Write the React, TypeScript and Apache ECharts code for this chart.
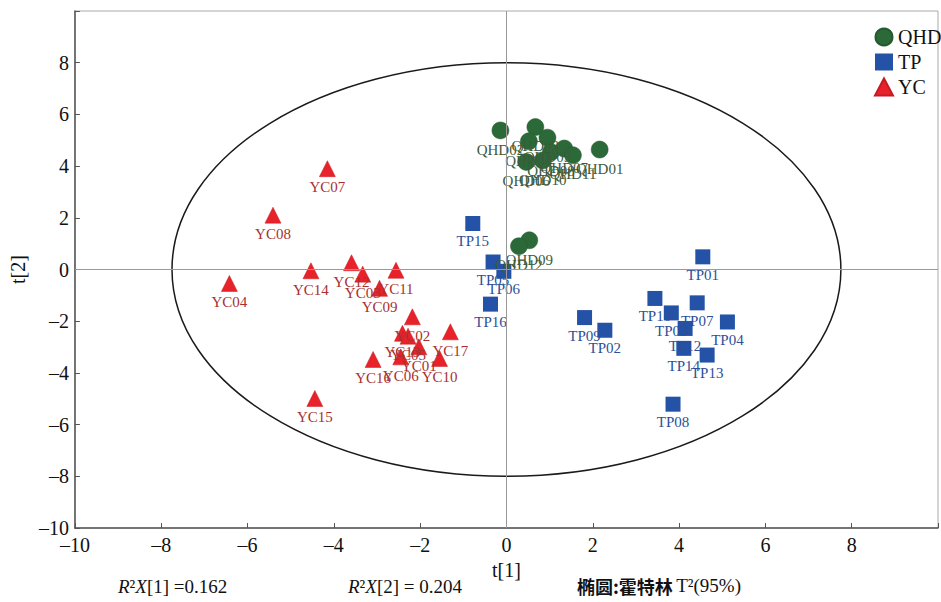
import React, { useEffect, useRef } from "react";
import * as echarts from "echarts";

const X_TICKS = [-10, -8, -6, -4, -2, 0, 2, 4, 6, 8];
const Y_TICKS = [-10, -8, -6, -4, -2, 0, 2, 4, 6, 8];

const QHD_NAMES = ["QHD02", "QHD03", "QHD04", "QHD05", "QHD08", "QHD07", "QHD11", "QHD01", "QHD06", "QHD10", "QHD09", "QHD12"];
const QHD_X = [-0.14, 0.67, 0.52, 0.95, 1.03, 1.34, 1.54, 2.16, 0.46, 0.84, 0.53, 0.29];
const QHD_Y = [5.38, 5.51, 4.96, 5.1, 4.54, 4.68, 4.42, 4.64, 4.16, 4.22, 1.13, 0.9];

const TP_NAMES = ["TP15", "TP05", "TP06", "TP16", "TP09", "TP02", "TP01", "TP10", "TP03", "TP07", "TP04", "TP12", "TP14", "TP13", "TP08"];
const TP_X = [-0.78, -0.31, -0.06, -0.37, 1.81, 2.28, 4.55, 3.44, 3.82, 4.42, 5.12, 4.14, 4.11, 4.65, 3.86];
const TP_Y = [1.78, 0.29, -0.07, -1.34, -1.86, -2.35, 0.49, -1.12, -1.68, -1.29, -2.03, -2.28, -3.05, -3.31, -5.21];

const YC_NAMES = ["YC07", "YC08", "YC04", "YC14", "YC12", "YC03", "YC09", "YC11", "YC02", "YC13", "YC05", "YC01", "YC17", "YC06", "YC10", "YC16", "YC15"];
const YC_X = [-4.15, -5.41, -6.42, -4.53, -3.59, -3.33, -2.94, -2.56, -2.18, -2.41, -2.28, -2.03, -1.3, -2.45, -1.55, -3.09, -4.44];
const YC_Y = [3.9, 2.1, -0.54, -0.05, 0.26, -0.18, -0.73, -0.03, -1.83, -2.47, -2.58, -2.99, -2.41, -3.38, -3.44, -3.48, -4.99];

const ELLIPSE_CENTER = [0, 0];
const ELLIPSE_RADII = [7.75, 8.0];

const SERIF = "'Liberation Serif', 'Times New Roman', serif";

function pts(names: string[], xs: number[], ys: number[]) {
  return names.map((n, i) => ({ name: n, value: [xs[i], ys[i]] }));
}

function fmt(v: number) {
  return String(v).replace("-", "\u2013");
}

export default function App() {
  const ref = useRef<HTMLDivElement>(null);
  useEffect(() => {
    document.body.style.margin = "0";
    const chart = echarts.init(ref.current!, null, { renderer: "svg" });
    const labelBase = { show: true, position: "bottom", distance: 3, formatter: "{b}", fontFamily: SERIF, fontSize: 15 };
    chart.setOption({
      animation: false,
      backgroundColor: "#ffffff",
      grid: { left: 71, right: -2, top: 11, bottom: 74, show: true, borderColor: "#aaaaaa", borderWidth: 1, backgroundColor: "transparent" },
      legend: {
        orient: "vertical",
        left: 869,
        top: 22,
        itemWidth: 18,
        itemHeight: 17,
        itemGap: 5,
        textStyle: { fontFamily: SERIF, fontSize: 20, color: "#111" },
        data: [
          { name: "QHD", icon: "circle" },
          { name: "TP", icon: "rect" },
          { name: "YC", icon: "triangle" },
        ],
      },
      xAxis: {
        type: "value",
        min: -10,
        max: 10,
        interval: 2,
        name: "t[1]",
        nameLocation: "middle",
        nameGap: 32,
        nameTextStyle: { fontFamily: SERIF, fontSize: 20, color: "#111" },
        axisLine: { show: true, onZero: false, lineStyle: { color: "#555", width: 1.5 } },
        axisTick: { show: true, inside: true, length: 5, lineStyle: { color: "#555" } },
        axisLabel: {
          fontFamily: SERIF,
          fontSize: 20,
          color: "#111",
          margin: 7,
          formatter: (v: number) => (X_TICKS.includes(v) ? fmt(v) : ""),
        },
        splitLine: { show: false },
      },
      yAxis: {
        type: "value",
        min: -10,
        max: 10,
        interval: 2,
        name: "t[2]",
        nameLocation: "middle",
        nameGap: 43,
        nameTextStyle: { fontFamily: SERIF, fontSize: 20, color: "#111" },
        axisLine: { show: true, onZero: false, lineStyle: { color: "#555", width: 1.5 } },
        axisTick: { show: true, inside: true, length: 5, lineStyle: { color: "#555" } },
        axisLabel: {
          fontFamily: SERIF,
          fontSize: 20,
          color: "#111",
          margin: 6,
          formatter: (v: number) => (Y_TICKS.includes(v) ? fmt(v) : ""),
        },
        splitLine: { show: false },
      },
      series: [
        {
          type: "custom",
          name: "ellipse",
          silent: true,
          clip: false,
          z: 1,
          data: [[ELLIPSE_CENTER[0], ELLIPSE_CENTER[1]]],
          renderItem: (params: any, api: any) => {
            const c = api.coord([ELLIPSE_CENTER[0], ELLIPSE_CENTER[1]]);
            const e = api.coord([ELLIPSE_CENTER[0] + ELLIPSE_RADII[0], ELLIPSE_CENTER[1] + ELLIPSE_RADII[1]]);
            return {
              type: "ellipse",
              shape: { cx: c[0], cy: c[1], rx: Math.abs(e[0] - c[0]), ry: Math.abs(e[1] - c[1]) },
              style: { fill: "none", stroke: "#1a1a1a", lineWidth: 1.5 },
            };
          },
          markLine: {
            silent: true,
            symbol: "none",
            label: { show: false },
            lineStyle: { color: "#999999", width: 1, type: "solid" },
            data: [{ xAxis: 0 }, { yAxis: 0 }],
          },
        },
        {
          type: "scatter",
          name: "QHD",
          symbol: "circle",
          symbolSize: 17,
          z: 3,
          itemStyle: { color: "#2b6a38", borderColor: "#235a2e", borderWidth: 0.5, opacity: 1 },
          label: { ...labelBase, color: "#3e5a3a" },
          data: pts(QHD_NAMES, QHD_X, QHD_Y),
        },
        {
          type: "scatter",
          name: "TP",
          symbol: "rect",
          symbolSize: 15,
          z: 3,
          itemStyle: { color: "#2452a6", opacity: 1 },
          label: { ...labelBase, color: "#2d4f98" },
          data: pts(TP_NAMES, TP_X, TP_Y),
        },
        {
          type: "scatter",
          name: "YC",
          symbol: "triangle",
          symbolSize: 16,
          z: 3,
          itemStyle: { color: "#e8222a", borderColor: "#c81a20", borderWidth: 0.5, opacity: 1 },
          label: { ...labelBase, color: "#a83030" },
          data: pts(YC_NAMES, YC_X, YC_Y),
        },
      ],
      graphic: [
        {
          type: "text",
          left: 118,
          top: 577,
          style: {
            text: "{i|R}{n|\u00b2}{i|X}{n|[1] =0.162}",
            rich: {
              i: { fontFamily: SERIF, fontSize: 19, fontStyle: "italic", fill: "#111" },
              n: { fontFamily: SERIF, fontSize: 19, fill: "#111" },
            },
          },
        },
        {
          type: "text",
          left: 348,
          top: 577,
          style: {
            text: "{i|R}{n|\u00b2}{i|X}{n|[2] = 0.204}",
            rich: {
              i: { fontFamily: SERIF, fontSize: 19, fontStyle: "italic", fill: "#111" },
              n: { fontFamily: SERIF, fontSize: 19, fill: "#111" },
            },
          },
        },
        {
          type: "text",
          left: 577,
          top: 576,
          style: {
            text: "{c|\u692d\u5706:\u970d\u7279\u6797} {n|T\u00b2(95%)}",
            rich: {
              c: { fontFamily: "'Noto Sans CJK SC'", fontSize: 18, fontWeight: "bold", fill: "#111" },
              n: { fontFamily: SERIF, fontSize: 19, fill: "#111" },
            },
          },
        },
      ],
    });
    return () => chart.dispose();
  }, []);
  return <div ref={ref} style={{ width: 941, height: 602 }} />;
}
